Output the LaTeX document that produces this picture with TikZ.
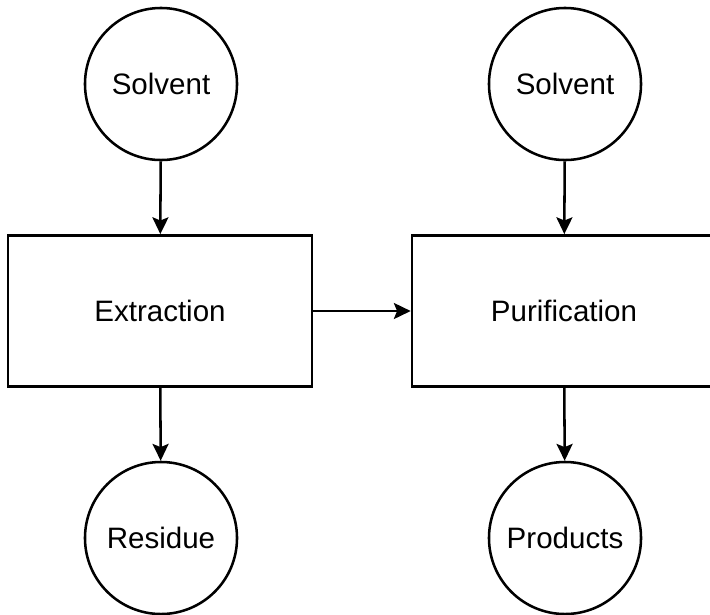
\documentclass[tikz,border=0pt]{standalone}
\usepackage{fontspec}
\setmainfont{Liberation Sans}
\usetikzlibrary{arrows.meta, positioning}

\begin{document}
\begin{tikzpicture}[x=0.025cm, y=-0.025cm, line width=1.8pt,
  every node/.style={font=\fontsize{21}{25}\selectfont},
  stream/.style={draw, circle, minimum size=3.8cm, inner sep=0pt},
  unit/.style={draw, rectangle, minimum width=7.6cm, minimum height=3.78cm},
  flow/.style={-{Stealth[length=0.42cm, width=0.4cm, inset=0.08cm]}}]
  \useasboundingbox[fill=white] (0,0) rectangle (710,614);
  % Process units
  \node[unit] (extraction) at (160,311) {Extraction};
  \node[unit] (purification) at (564,311) {Purification};
  % Streams in and out
  \node[stream] (solventA) at (161,84) {Solvent};
  \node[stream] (solventB) at (565,84) {Solvent};
  \node[stream] (residue) at (161,538) {Residue};
  \node[stream] (products) at (565,538) {Products};
  % Connections
  \foreach \a/\b in {solventA/extraction, solventB/purification,
    extraction/residue, purification/products, extraction/purification}
    \draw[flow] (\a) -- (\b);
\end{tikzpicture}
\end{document}
